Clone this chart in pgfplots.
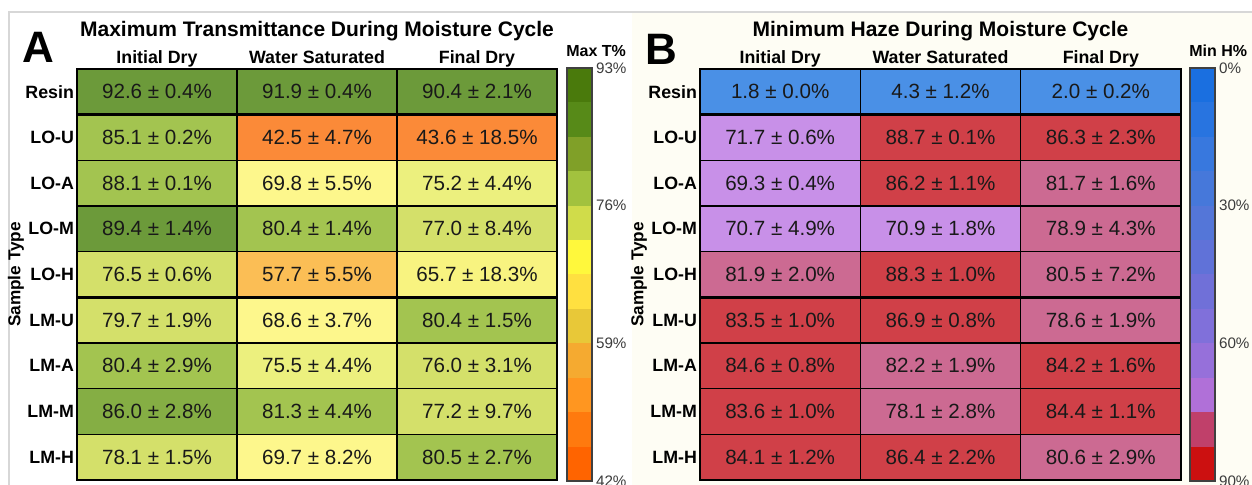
\documentclass[border=0pt]{standalone}
\usepackage{pgfplots}
\usepackage{pgfplotstable}
\pgfplotsset{compat=1.18}
\usepackage{fontspec}
\setmainfont{Liberation Sans}
\definecolor{cream}{RGB}{254,253,244}
\definecolor{framegray}{RGB}{215,215,215}
\definecolor{cbtext}{RGB}{60,60,60}
% colour-bar steps, panel A (42% -> 93%)
\definecolor{a0}{RGB}{255,100,0}
\definecolor{a1}{RGB}{255,122,14}
\definecolor{a2}{RGB}{255,150,32}
\definecolor{a3}{RGB}{245,170,48}
\definecolor{a4}{RGB}{232,200,56}
\definecolor{a5}{RGB}{255,224,64}
\definecolor{a6}{RGB}{255,248,60}
\definecolor{a7}{RGB}{208,220,74}
\definecolor{a8}{RGB}{162,194,62}
\definecolor{a9}{RGB}{128,160,40}
\definecolor{a10}{RGB}{87,138,24}
\definecolor{a11}{RGB}{74,122,12}
% colour-bar steps, panel B (0% -> 90%)
\definecolor{b0}{RGB}{26,111,224}
\definecolor{b1}{RGB}{40,116,224}
\definecolor{b2}{RGB}{56,120,222}
\definecolor{b3}{RGB}{70,120,218}
\definecolor{b4}{RGB}{84,118,216}
\definecolor{b5}{RGB}{96,114,216}
\definecolor{b6}{RGB}{112,112,216}
\definecolor{b7}{RGB}{128,112,218}
\definecolor{b8}{RGB}{150,112,218}
\definecolor{b9}{RGB}{176,112,216}
\definecolor{b10}{RGB}{192,64,106}
\definecolor{b11}{RGB}{204,16,16}

% x = column (0 Initial Dry, 1 Water Saturated, 2 Final Dry), y = row, v = value, e = +/- , c = colour class
\pgfplotstableread{
x y v e c
0 0 92.6 0.4 0
1 0 91.9 0.4 0
2 0 90.4 2.1 0
0 1 85.1 0.2 2
1 1 42.5 4.7 8
2 1 43.6 18.5 8
0 2 88.1 0.1 2
1 2 69.8 5.5 5
2 2 75.2 4.4 4
0 3 89.4 1.4 0
1 3 80.4 1.4 2
2 3 77.0 8.4 3
0 4 76.5 0.6 3
1 4 57.7 5.5 7
2 4 65.7 18.3 6
0 5 79.7 1.9 3
1 5 68.6 3.7 5
2 5 80.4 1.5 2
0 6 80.4 2.9 2
1 6 75.5 4.4 4
2 6 76.0 3.1 3
0 7 86.0 2.8 1
1 7 81.3 4.4 2
2 7 77.2 9.7 3
0 8 78.1 1.5 3
1 8 69.7 8.2 5
2 8 80.5 2.7 2
}\tabA

\pgfplotstableread{
x y v e c
0 0 1.8 0.0 0
1 0 4.3 1.2 0
2 0 2.0 0.2 0
0 1 71.7 0.6 1
1 1 88.7 0.1 3
2 1 86.3 2.3 3
0 2 69.3 0.4 1
1 2 86.2 1.1 3
2 2 81.7 1.6 2
0 3 70.7 4.9 1
1 3 70.9 1.8 1
2 3 78.9 4.3 2
0 4 81.9 2.0 2
1 4 88.3 1.0 3
2 4 80.5 7.2 2
0 5 83.5 1.0 3
1 5 86.9 0.8 3
2 5 78.6 1.9 2
0 6 84.6 0.8 3
1 6 82.2 1.9 2
2 6 84.2 1.6 3
0 7 83.6 1.0 3
1 7 78.1 2.8 2
2 7 84.4 1.1 3
0 8 84.1 1.2 3
1 8 86.4 2.2 3
2 8 80.6 2.9 2
}\tabB

\pgfplotsset{
  heat/.style={
    scale only axis, height=205.5pt,
    xmin=-0.5, xmax=2.5, ymin=-0.5, ymax=8.5, y dir=reverse,
    enlargelimits=false,
    xtick={0,1,2}, xticklabels={Initial Dry,Water Saturated,Final Dry},
    xticklabel pos=upper,
    ytick={0,...,8}, yticklabels={Resin,LO-U,LO-A,LO-M,LO-H,LM-U,LM-A,LM-M,LM-H},
    major tick length=0pt, minor tick length=0pt,
    tick label style={font=\bfseries\fontsize{8.9}{10}\selectfont},
    xticklabel style={yshift=-3pt, text height=0.72em, text depth=0.21em},
    yticklabel style={xshift=2pt},
    minor xtick={0.5,1.5}, minor ytick={0.5,1.5,...,7.5},
    xminorgrids=true, yminorgrids=true,
    minor grid style={black, line width=0.7pt},
    extra y ticks={0.5,4.5}, extra y tick labels={},
    extra y tick style={grid=major, major grid style={black, line width=1.6pt}},
    axis line style={black, line width=0.8pt},
    axis on top,
    colormap access=direct,
    title style={at={(0.5,1)}, anchor=center, yshift=12.8pt, font=\bfseries\fontsize{10.5}{12}\selectfont},
    ylabel={Sample Type},
    ylabel style={at={(axis description cs:0,0.5)}, anchor=center, yshift=30.5pt, font=\bfseries\fontsize{8.6}{10}\selectfont},
    /pgf/number format/assume math mode=true,
  },
  cbar/.style={
    scale only axis, width=12.5pt, height=206.5pt,
    xmin=-0.5, xmax=1.5, enlargelimits=false,
    xtick=\empty, yticklabel pos=right,
    major tick length=0pt,
    tick label style={font=\fontsize{7.6}{9}\selectfont, text=cbtext},
    yticklabel style={xshift=-1.5pt},
    axis line style={black!75, line width=0.6pt},
    axis on top,
    point meta=none,
    title style={at={(0,1)}, anchor=south west, inner sep=0pt, yshift=-0.7pt, xshift=-0.5pt, font=\bfseries\fontsize{8}{9}\selectfont},
  },
  celltext/.style={draw=none, mark=none, forget plot,
    point meta=explicit,
    visualization depends on={\thisrow{e}\as\err},
    nodes near coords={\pgfmathprintnumber[fixed,fixed zerofill,precision=1]{\pgfplotspointmeta} ± \pgfmathprintnumber[fixed,fixed zerofill,precision=1]{\err}\%},
    every node near coord/.append style={anchor=center, font=\fontsize{10.3}{12}\selectfont, text=black!90},
  },
  cstep/.style={draw=none, fill=#1, mark=none, forget plot, point meta=none},
}

\begin{document}
\begin{tikzpicture}
\useasboundingbox (0,0) rectangle (626pt,-242.5pt);
\fill[white] (0,0) rectangle (626pt,-242.5pt);
\fill[cream] (316pt,-6pt) rectangle (626pt,-242.5pt);
\draw[framegray, line width=0.6pt] (4.5pt,-242.5pt) -- (4.5pt,-6pt) -- (626pt,-6pt);

% ---------------- Panel A ----------------
\begin{axis}[heat, width=240pt, at={(38.5pt,-34.5pt)}, anchor=north west,
  title={Maximum Transmittance During Moisture Cycle},
  colormap={cellA}{rgb255=(108,154,58) rgb255=(133,174,68) rgb255=(163,196,80)
    rgb255=(212,224,106) rgb255=(236,240,126) rgb255=(253,247,140) rgb255=(248,243,128)
    rgb255=(251,190,85) rgb255=(251,138,56)}]
\addplot[matrix plot*, mesh/cols=3, point meta=explicit] table[x=x, y=y, meta=c] {\tabA};
\addplot[celltext] table[x=x, y=y, meta=v] {\tabA};
\end{axis}

\begin{axis}[cbar, at={(283.5pt,-34pt)}, anchor=north west,
  ymin=42, ymax=93, ytick={42,59,76,93}, yticklabels={42\%,59\%,76\%,93\%},
  title={Max T\%}]
\addplot[cstep=a0] coordinates {(-0.5,42) (1.5,42) (1.5,46.25) (-0.5,46.25)} --cycle;
\addplot[cstep=a1] coordinates {(-0.5,46.25) (1.5,46.25) (1.5,50.5) (-0.5,50.5)} --cycle;
\addplot[cstep=a2] coordinates {(-0.5,50.5) (1.5,50.5) (1.5,54.75) (-0.5,54.75)} --cycle;
\addplot[cstep=a3] coordinates {(-0.5,54.75) (1.5,54.75) (1.5,59) (-0.5,59)} --cycle;
\addplot[cstep=a4] coordinates {(-0.5,59) (1.5,59) (1.5,63.25) (-0.5,63.25)} --cycle;
\addplot[cstep=a5] coordinates {(-0.5,63.25) (1.5,63.25) (1.5,67.5) (-0.5,67.5)} --cycle;
\addplot[cstep=a6] coordinates {(-0.5,67.5) (1.5,67.5) (1.5,71.75) (-0.5,71.75)} --cycle;
\addplot[cstep=a7] coordinates {(-0.5,71.75) (1.5,71.75) (1.5,76) (-0.5,76)} --cycle;
\addplot[cstep=a8] coordinates {(-0.5,76) (1.5,76) (1.5,80.25) (-0.5,80.25)} --cycle;
\addplot[cstep=a9] coordinates {(-0.5,80.25) (1.5,80.25) (1.5,84.5) (-0.5,84.5)} --cycle;
\addplot[cstep=a10] coordinates {(-0.5,84.5) (1.5,84.5) (1.5,88.75) (-0.5,88.75)} --cycle;
\addplot[cstep=a11] coordinates {(-0.5,88.75) (1.5,88.75) (1.5,93) (-0.5,93)} --cycle;
\end{axis}

% ---------------- Panel B ----------------
\begin{axis}[heat, width=240.5pt, at={(350pt,-34.5pt)}, anchor=north west,
  title={Minimum Haze During Moisture Cycle},
  colormap={cellB}{rgb255=(74,144,230) rgb255=(200,144,232) rgb255=(204,106,146) rgb255=(208,64,72)}]
\addplot[matrix plot*, mesh/cols=3, point meta=explicit] table[x=x, y=y, meta=c] {\tabB};
\addplot[celltext] table[x=x, y=y, meta=v] {\tabB};
\end{axis}

\begin{axis}[cbar, at={(595pt,-34pt)}, anchor=north west,
  ymin=0, ymax=90, y dir=reverse, ytick={0,30,60,90}, yticklabels={0\%,30\%,60\%,90\%},
  title={Min H\%}]
\addplot[cstep=b0] coordinates {(-0.5,0) (1.5,0) (1.5,7.5) (-0.5,7.5)} --cycle;
\addplot[cstep=b1] coordinates {(-0.5,7.5) (1.5,7.5) (1.5,15) (-0.5,15)} --cycle;
\addplot[cstep=b2] coordinates {(-0.5,15) (1.5,15) (1.5,22.5) (-0.5,22.5)} --cycle;
\addplot[cstep=b3] coordinates {(-0.5,22.5) (1.5,22.5) (1.5,30) (-0.5,30)} --cycle;
\addplot[cstep=b4] coordinates {(-0.5,30) (1.5,30) (1.5,37.5) (-0.5,37.5)} --cycle;
\addplot[cstep=b5] coordinates {(-0.5,37.5) (1.5,37.5) (1.5,45) (-0.5,45)} --cycle;
\addplot[cstep=b6] coordinates {(-0.5,45) (1.5,45) (1.5,52.5) (-0.5,52.5)} --cycle;
\addplot[cstep=b7] coordinates {(-0.5,52.5) (1.5,52.5) (1.5,60) (-0.5,60)} --cycle;
\addplot[cstep=b8] coordinates {(-0.5,60) (1.5,60) (1.5,67.5) (-0.5,67.5)} --cycle;
\addplot[cstep=b9] coordinates {(-0.5,67.5) (1.5,67.5) (1.5,75) (-0.5,75)} --cycle;
\addplot[cstep=b10] coordinates {(-0.5,75) (1.5,75) (1.5,82.5) (-0.5,82.5)} --cycle;
\addplot[cstep=b11] coordinates {(-0.5,82.5) (1.5,82.5) (1.5,90) (-0.5,90)} --cycle;
\end{axis}

\node[font=\bfseries\fontsize{22}{24}\selectfont, inner sep=0pt] at (19pt,-23.75pt) {A};
\node[font=\bfseries\fontsize{22}{24}\selectfont, inner sep=0pt] at (330.5pt,-24.5pt) {B};
\end{tikzpicture}
\end{document}
